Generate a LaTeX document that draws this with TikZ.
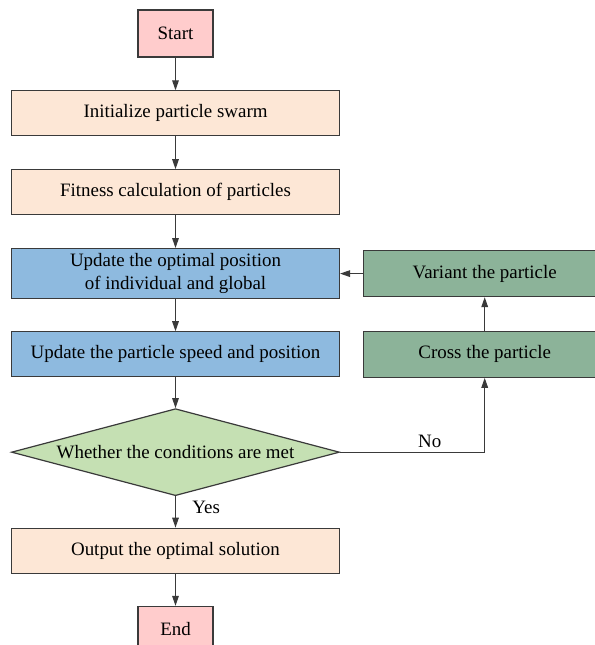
\documentclass[tikz,border=0pt]{standalone}
\usepackage{fontspec}
\setmainfont{Liberation Serif}
\usetikzlibrary{arrows.meta,positioning,shapes.geometric}
\definecolor{rozsa}{HTML}{FFCCCC}
\definecolor{barack}{HTML}{FDE7D6}
\definecolor{kek}{HTML}{8EBADF}
\definecolor{zold}{HTML}{8CB399}
\definecolor{vilzold}{HTML}{C5E0B3}
\definecolor{vonal}{HTML}{3A3A3A}
\tikzset{
  dob/.style={draw=vonal,line width=0.9pt,align=center,inner sep=2pt,
    minimum width=246pt,minimum height=33.75pt},
  veg/.style={dob,fill=rozsa,minimum width=56.25pt,minimum height=35.25pt},
  lepes/.style={dob,fill=barack},
  frissit/.style={dob,fill=kek},
  muvelet/.style={dob,fill=zold,minimum width=181.5pt,minimum height=34.5pt},
  dont/.style={diamond,aspect=3.77,draw=vonal,line width=0.9pt,fill=vilzold,inner sep=0pt,
    minimum width=246pt,minimum height=65.25pt},
  nyil/.style={draw=vonal,line width=0.75pt,-{Triangle[length=7.5pt,width=5pt]}},
}
\begin{document}
\begin{tikzpicture}[x=0.75pt,y=-0.75pt,font=\fontsize{14.2}{17}\selectfont,node distance=24.5pt]
  \useasboundingbox (0,0) rectangle (595,645);
  \node[veg] (start) at (175.5,33.5) {Start};
  \node[lepes] (init) [below=of start] {Initialize particle swarm};
  \node[lepes] (fit) [below=of init] {Fitness calculation of particles};
  \node[frissit,minimum height=37.5pt] (opt) [below=24.5pt of fit] {Update the optimal position\\of individual and global};
  \node[frissit] (seb) [below=24pt of opt] {Update the particle speed and position};
  \node[dont] (felt) [below=23pt of seb] {Whether the conditions are met};
  \node[lepes] (kimenet) [below=23.5pt of felt] {Output the optimal solution};
  \node[veg,minimum height=34.5pt] (vege) [below=24pt of kimenet] {End};
  \node[muvelet] (valt) [right=17.25pt of opt] {Variant the particle};
  \node[muvelet] (kereszt) [right=17.25pt of seb] {Cross the particle};
  \draw[nyil] (start) -- (init);
  \draw[nyil] (init) -- (fit);
  \draw[nyil] (fit) -- (opt);
  \draw[nyil] (opt) -- (seb);
  \draw[nyil] (seb) -- (felt);
  \draw[nyil] (felt) -- node[right=9pt,pos=0.35] {Yes} (kimenet);
  \draw[nyil] (kimenet) -- (vege);
  \draw[nyil] (felt.east) -- node[above,pos=0.62] {No} (felt.east -| kereszt.south) -- (kereszt.south);
  \draw[nyil] (kereszt) -- (valt);
  \draw[nyil] (valt) -- (opt);
\end{tikzpicture}
\end{document}
